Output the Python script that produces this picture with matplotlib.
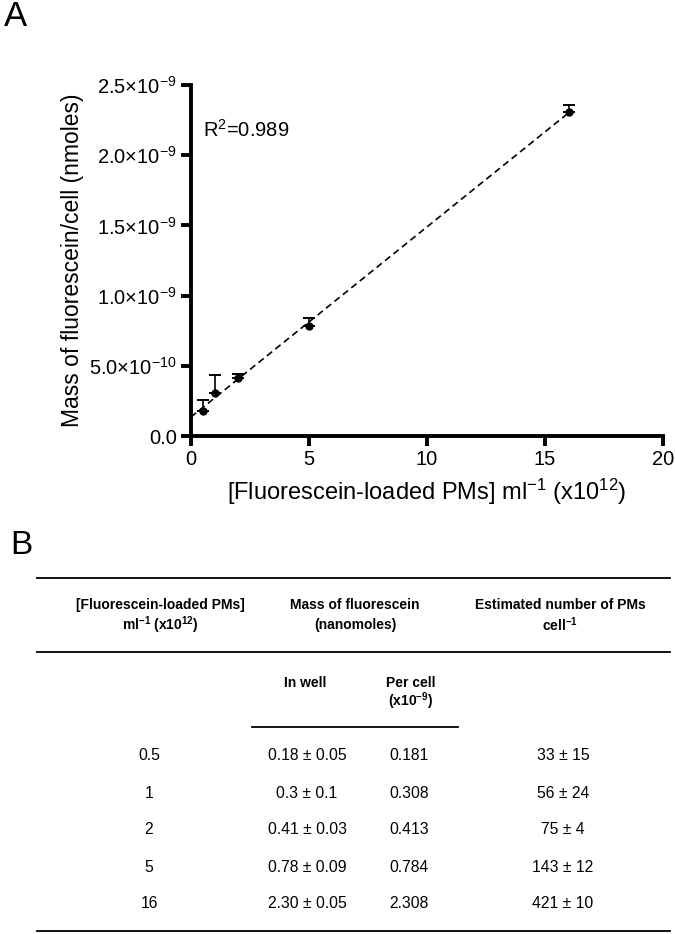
import matplotlib
matplotlib.use("Agg")
import matplotlib.pyplot as plt
import numpy as np
from matplotlib.lines import Line2D

plt.rcParams['font.family'] = ['Liberation Sans', 'DejaVu Sans']
plt.rcParams['mathtext.fontset'] = 'custom'
plt.rcParams['mathtext.rm'] = 'Liberation Sans'
plt.rcParams['mathtext.it'] = 'Liberation Sans:italic'
plt.rcParams['mathtext.bf'] = 'Liberation Sans:bold'

# ---- data (panel A) ----
conc = [0.5, 1, 2, 5, 16]                        # x10^12 PMs/ml
mass_per_cell = [0.181, 0.308, 0.413, 0.784, 2.308]  # x10^-9 nmoles
err_up = [0.075, 0.125, 0.03, 0.06, 0.05]        # x10^-9
yticks = [0.0, 0.5, 1.0, 1.5, 2.0, 2.5]
ytick_labels = ["0.0", r"5.0×10$^{-10}$", r"1.0×10$^{-9}$", r"1.5×10$^{-9}$",
                r"2.0×10$^{-9}$", r"2.5×10$^{-9}$"]
xticks = [0, 5, 10, 15, 20]
r2_text = r"R$^{2}$=0.989"

# ---- data (panel B table) ----
col_conc = ["0.5", "1", "2", "5", "16"]
col_inwell = ["0.18 ± 0.05", "0.3 ± 0.1", "0.41 ± 0.03", "0.78 ± 0.09", "2.30 ± 0.05"]
col_percell = ["0.181", "0.308", "0.413", "0.784", "2.308"]
col_number = ["33 ± 15", "56 ± 24", "75 ± 4", "143 ± 12", "421 ± 10"]

W, H = 675, 934
fig = plt.figure(figsize=(W/100, H/100), dpi=100)

# ---- panel A ----
ax = fig.add_axes([191/W, 1-436/H, (663-191)/W, (436-85)/H])
x = np.array(conc)
y = np.array(mass_per_cell)
slope, intercept = np.polyfit(x, y, 1)
xf = np.array([0, max(conc)])
ax.plot(xf, slope*xf + intercept, ls=(0, (4, 2.5)), color='black', lw=1.2, zorder=2)
ax.errorbar(x, y, yerr=[np.zeros_like(y), np.array(err_up)], fmt='o', color='black',
            ms=5, capsize=4, elinewidth=1.2, capthick=1.4, zorder=3)
ax.set_xlim(0, 20)
ax.set_ylim(0, 2.5)
ax.set_xticks(xticks)
ax.set_xticklabels([str(t) for t in xticks])
ax.set_yticks(yticks)
ax.set_yticklabels(ytick_labels)
for s in ['top', 'right']:
    ax.spines[s].set_visible(False)
for s in ['left', 'bottom']:
    ax.spines[s].set_linewidth(2.8)
ax.tick_params(axis='both', width=2.8, length=7, labelsize=14.5, direction='out', pad=3)
ax.set_xlabel(r"[Fluorescein-loaded PMs] ml$^{-1}$ (x10$^{12}$)", fontsize=17, labelpad=6)
ax.set_ylabel("Mass of fluorescein/cell (nmoles)", fontsize=16.5, labelpad=4)
ax.text(0.5, 2.18, r2_text, fontsize=14.5, va='center', ha='left')
fig.text(4/W, 1-17/H, "A", fontsize=25, va='center', ha='left')

# ---- panel B (table) ----
tb = fig.add_axes([0, 0, 1, 1])
tb.set_xlim(0, W)
tb.set_ylim(H, 0)
tb.axis('off')
fig.text(10/W, 1-545/H, "B", fontsize=24, va='center', ha='left')

def hline(y0, x0, x1, lw=1.3):
    tb.add_line(Line2D([x0, x1], [y0, y0], color='black', lw=lw))

hline(578, 37, 670)
hline(652, 37, 670)
hline(727, 252, 458)
hline(931, 37, 670)

bkw = dict(fontsize=10, fontweight='bold', ha='center', va='center', fontstretch='condensed')
tb.text(160, 605, "[Fluorescein-loaded PMs]", **bkw)
tb.text(160, 625, r"ml$^{\mathbf{-1}}$ (x10$^{\mathbf{12}}$)", **bkw)
tb.text(355, 605, "Mass of fluorescein", **bkw)
tb.text(355, 625, "(nanomoles)", **bkw)
tb.text(560, 605, "Estimated number of PMs", **bkw)
tb.text(560, 625, r"cell$^{\mathbf{-1}}$", **bkw)
tb.text(305, 683, "In well", **bkw)
tb.text(411, 683, "Per cell", **bkw)
tb.text(411, 701, r"(x10$^{\mathbf{-9}}$)", **bkw)

row_y = [756, 793, 830, 867, 904]
nkw = dict(fontsize=11.3, ha='center', va='center')
for i, ry in enumerate(row_y):
    tb.text(149, ry, col_conc[i], **nkw)
    tb.text(307, ry, col_inwell[i], **nkw)
    tb.text(409, ry, col_percell[i], **nkw)
    tb.text(563, ry, col_number[i], **nkw)

fig.savefig("out.png", dpi=100)
